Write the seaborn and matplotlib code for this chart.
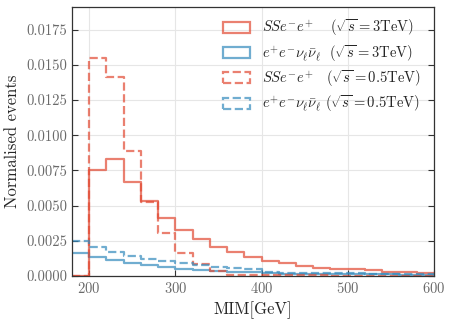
import numpy as np
import pandas as pd
import matplotlib
matplotlib.use("Agg")
import matplotlib.pyplot as plt
from matplotlib.patches import Rectangle
import seaborn as sns

# bin edges (20 GeV bins)
edges = list(range(180, 601, 20))
centers = [e + 10 for e in edges[:-1]]

ss_3tev = [0.0, 0.00753, 0.00829, 0.00668, 0.00533, 0.0041, 0.00327, 0.0026, 0.00208, 0.00168,
           0.00137, 0.00109, 0.0009, 0.00071, 0.00057, 0.00053, 0.00048, 0.00043, 0.0003,
           0.00028, 0.00021]
bg_3tev = [0.00161, 0.00133, 0.00114, 0.00092, 0.00076, 0.00062, 0.00052, 0.00043, 0.00036,
           0.0003, 0.00026, 0.00019, 0.00017, 0.00016, 0.00015, 0.00014, 0.00013, 0.00012,
           0.00011, 0.0001, 0.0001]
ss_05tev = [0.0, 0.0155, 0.01413, 0.00888, 0.00528, 0.00303, 0.00166, 0.00085, 0.00033,
            0.0001, 0.00008, 0.00006, 0.00005, 0.00004, 0.00004, 0.00003, 0.00003, 0.00002,
            0.00002, 0.00002, 0.00002]
bg_05tev = [0.00249, 0.00208, 0.00168, 0.00142, 0.00123, 0.00104, 0.0009, 0.00078, 0.00066,
            0.0006, 0.00052, 0.00028, 0.00024, 0.00022, 0.0002, 0.00019, 0.00018, 0.00017,
            0.00016, 0.00015, 0.00014]

labels = [r"$SSe^{-}e^{+}\quad\ (\sqrt{s}=3\mathrm{TeV})$",
          r"$e^{+}e^{-}\nu_{\ell}\bar{\nu}_{\ell}\ \ (\sqrt{s}=3\mathrm{TeV})$",
          r"$SSe^{-}e^{+}\quad(\sqrt{s}=0.5\mathrm{TeV})$",
          r"$e^{+}e^{-}\nu_{\ell}\bar{\nu}_{\ell}\ (\sqrt{s}=0.5\mathrm{TeV})$"]

red = "#E24A33"
blue = "#348ABD"

sns.set_style("whitegrid")
plt.rcParams["font.family"] = "serif"
plt.rcParams["font.serif"] = ["cmr10", "DejaVu Serif"]
plt.rcParams["mathtext.fontset"] = "cm"
plt.rcParams["axes.formatter.use_mathtext"] = True
plt.rcParams["axes.unicode_minus"] = False

fig = plt.figure(figsize=(4.52, 3.23), dpi=100)
ax = fig.add_axes([0.159, 0.1455, 0.801, 0.8325])

series = [(ss_3tev, red, "-"), (bg_3tev, blue, "-"),
          (ss_05tev, red, "--"), (bg_05tev, blue, "--")]
handles = []
for vals, col, ls in series:
    df = pd.DataFrame({"mim": centers, "w": vals})
    sns.histplot(data=df, x="mim", weights="w", binwidth=20, binrange=(180, 600),
                 element="step", fill=False, color=col, linestyle=ls,
                 linewidth=1.6, alpha=0.7, ax=ax)
    handles.append(Rectangle((0, 0), 1, 1, facecolor="none", edgecolor=col,
                             linestyle=ls, linewidth=1.6, alpha=0.7))

ax.set_xlim(180, 600)
ax.set_ylim(0, 0.0191)
yt = np.arange(0, 0.0176, 0.0025)
ax.set_yticks(yt)
ax.set_yticklabels([f"{v:.4f}" for v in yt])
ax.set_xticks([200, 300, 400, 500, 600])
ax.set_xlabel("MIM[GeV]", fontsize=12)
ax.set_ylabel("Normalised events", fontsize=12)
ax.tick_params(direction="in", length=4, labelsize=10.5, labelcolor="#6a6a6a",
               right=True, top=False, left=True, bottom=True, color="#333333")
ax.grid(color="#e6e6e6", linewidth=0.8)
for s in ax.spines.values():
    s.set_color("#333333")
    s.set_linewidth(0.9)

ax.legend(handles, labels, loc="upper right", frameon=False, fontsize=10.5,
          handlelength=1.9, handleheight=0.8, labelspacing=0.3, handletextpad=0.8,
          bbox_to_anchor=(1.0, 1.01))

fig.savefig("out.png", dpi=100)
